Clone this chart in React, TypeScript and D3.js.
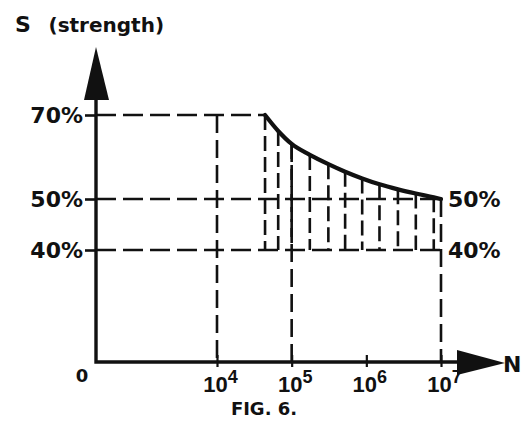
import React, { useEffect, useRef } from 'react'
import * as d3 from 'd3'

// strength levels marked on the S axis (percent)
const levels = [40, 50, 70]
const rightLevels = [40, 50]
// decades on the N axis
const decades = [1e4, 1e5, 1e6, 1e7]
// S-N curve: cycles N and strength S (%)
const curveN = [4.4e4, 6.6e4, 1e5, 1.75e5, 3.1e5, 5.2e5, 8.8e5, 1.5e6, 2.65e6, 4.6e6, 8e6, 1e7]
const curveS = [70, 66.2, 63.1, 60.5, 58.3, 56.5, 54.9, 53.5, 52.3, 51.3, 50.4, 50]
// long vertical guides down to the N axis: where they start (S %)
const guideN = [1e4, 1e5, 1e7]
const guideTop = [70, 63.1, 50]

const originX = 96
const originY = 362
const ink = '#111'
const font = '"DejaVu Sans", sans-serif'

const App = () => {
  const ref = useRef<SVGSVGElement>(null)

  useEffect(() => {
    const svg = d3.select(ref.current)
    svg.selectAll('*').remove()

    const x = d3.scaleLog().domain([1e4, 1e7]).range([217, 441])
    const y = d3.scaleLinear().domain([0, 40, 50, 70]).range([originY, 250, 199, 115])

    const pts = curveN.map((n, i) => ({ n, s: curveS[i] }))
    const knee = pts[0]
    const end = pts[pts.length - 1]

    const lines = svg.append('g').attr('stroke', ink).attr('fill', 'none')

    // horizontal dashed levels
    lines
      .selectAll('.hline')
      .data([
        { s: 70, to: knee.n },
        { s: 50, to: end.n },
        { s: 40, to: end.n },
      ])
      .join('line')
      .attr('x1', originX)
      .attr('x2', (d) => x(d.to))
      .attr('y1', (d) => y(d.s))
      .attr('y2', (d) => y(d.s))
      .attr('stroke-width', 2.6)
      .attr('stroke-dasharray', '20 7')

    // vertical guides to the axis
    lines
      .selectAll('.guide')
      .data(guideN.map((n, i) => ({ n, top: guideTop[i] })))
      .join('line')
      .attr('x1', (d) => x(d.n))
      .attr('x2', (d) => x(d.n))
      .attr('y1', (d) => y(d.top))
      .attr('y2', originY)
      .attr('stroke-width', 2.6)
      .attr('stroke-dasharray', '18 7')

    // hatching under the curve down to 40%
    lines
      .selectAll('.hatch')
      .data(pts.slice(0, -1))
      .join('line')
      .attr('x1', (d) => x(d.n))
      .attr('x2', (d) => x(d.n))
      .attr('y1', (d) => y(d.s))
      .attr('y2', y(40))
      .attr('stroke-width', 2.6)
      .attr('stroke-dasharray', '15 6')

    // the curve
    const line = d3
      .line<{ n: number; s: number }>()
      .x((d) => x(d.n))
      .y((d) => y(d.s))
      .curve(d3.curveMonotoneX)

    svg
      .append('path')
      .datum(pts)
      .attr('d', line)
      .attr('fill', 'none')
      .attr('stroke', ink)
      .attr('stroke-width', 4.2)
      .attr('stroke-linecap', 'round')

    // left axis labels
    const left = svg
      .append('g')
      .attr('transform', `translate(${originX},0)`)
      .call(
        d3
          .axisLeft(y)
          .tickValues(levels)
          .tickSize(11)
          .tickPadding(2)
          .tickFormat((d) => `${d}%`)
      )
    left.select('.domain').remove()
    left.selectAll('line').attr('stroke', ink).attr('stroke-width', 2.6)
    left
      .selectAll('text')
      .attr('fill', ink)
      .attr('font-family', font)
      .attr('font-weight', 'bold')
      .attr('font-size', 22)

    // right labels
    const right = svg
      .append('g')
      .attr('transform', `translate(${x(1e7)},0)`)
      .call(
        d3
          .axisRight(y)
          .tickValues(rightLevels)
          .tickSize(0)
          .tickPadding(7)
          .tickFormat((d) => `${d}%`)
      )
    right.select('.domain').remove()
    right
      .selectAll('text')
      .attr('fill', ink)
      .attr('font-family', font)
      .attr('font-weight', 'bold')
      .attr('font-size', 22)

    // bottom axis
    const bottom = svg
      .append('g')
      .attr('transform', `translate(0,${originY})`)
      .call(d3.axisBottom(x).tickValues(decades).tickSize(5))
    bottom.select('.domain').remove()
    bottom.selectAll('line').attr('stroke', ink).attr('stroke-width', 2.2).attr('y1', -7)
    bottom.selectAll<SVGTextElement, number>('text').each(function (d) {
      const t = d3.select(this)
      t.text(null)
        .attr('x', 3)
        .attr('y', 30)
        .attr('dy', null)
        .attr('fill', ink)
        .attr('font-family', '"Liberation Sans", Arial, sans-serif')
        .attr('font-weight', 'bold')
        .attr('font-size', 22)
      t.append('tspan').text('10')
      t.append('tspan')
        .attr('dy', -9)
        .attr('font-size', 18)
        .text(String(Math.round(Math.log10(d))))
    })

    // axis lines with arrowheads
    svg
      .append('path')
      .attr('d', `M${originX},98 V${originY} H460`)
      .attr('fill', 'none')
      .attr('stroke', ink)
      .attr('stroke-width', 3.4)
    svg
      .append('path')
      .attr('d', `M${originX},47 L109,100 L84,100 Z`)
      .attr('fill', ink)
    svg
      .append('path')
      .attr('d', `M505,${originY + 1} L457,${originY - 12} L457,${originY + 13} Z`)
      .attr('fill', ink)

    const label = (tx: number, ty: number, size: number, anchor = 'start') =>
      svg
        .append('text')
        .attr('x', tx)
        .attr('y', ty)
        .attr('text-anchor', anchor)
        .attr('fill', ink)
        .attr('font-family', font)
        .attr('font-weight', 'bold')
        .attr('font-size', size)

    const title = label(15, 32, 22)
    title.append('tspan').text('S ')
    title.append('tspan').attr('dx', 10).attr('font-size', 20).text('(strength)')
    label(82, 382, 18, 'middle').text('0')
    label(503, 372, 22).text('N')
    label(264, 415, 18, 'middle').text('FIG. 6.')
  }, [])

  return (
    <svg
      ref={ref}
      width={530}
      height={424}
      style={{ position: 'absolute', left: 0, top: 0, background: '#fff' }}
    />
  )
}

export default App
